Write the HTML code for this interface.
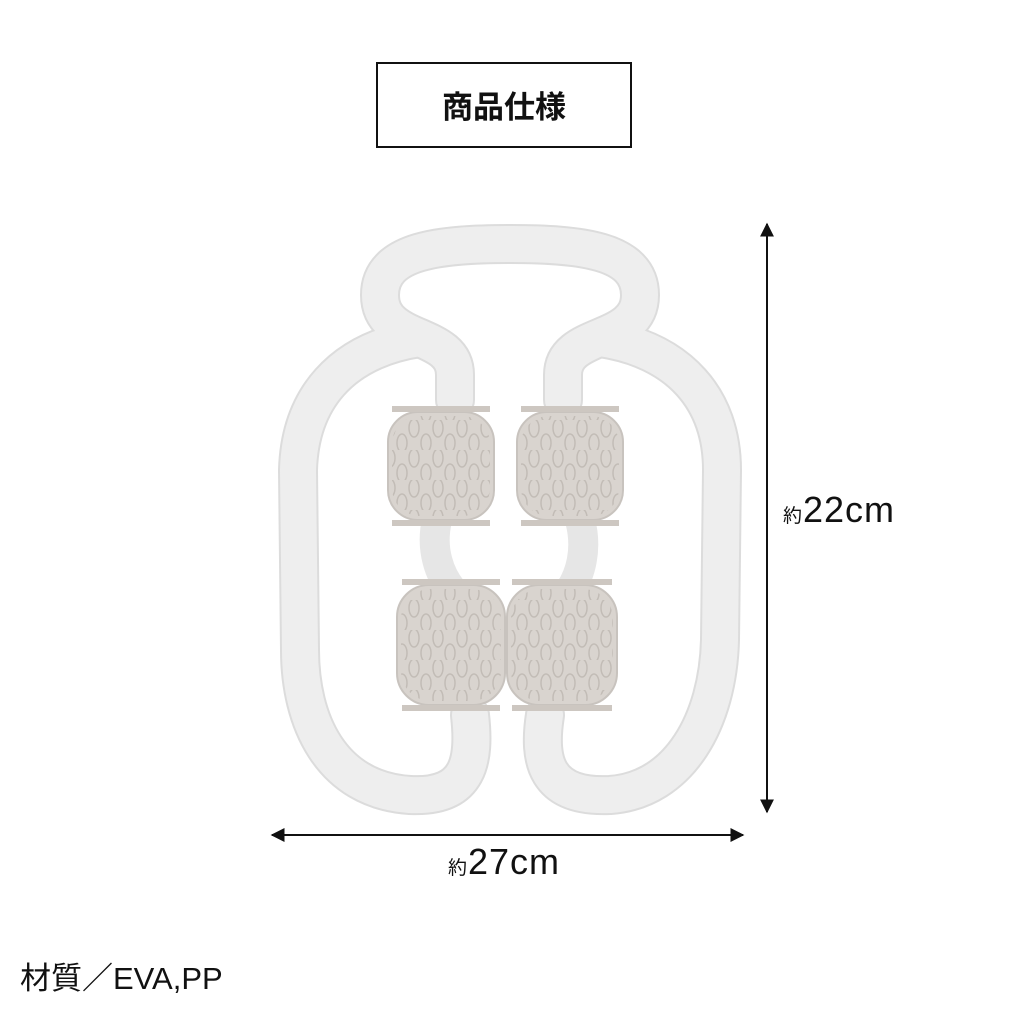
<!DOCTYPE html>
<html><head><meta charset="utf-8"><style>
body{margin:0;background:#fff;width:1010px;height:1010px;position:relative;overflow:hidden;font-family:"Liberation Sans","Noto Sans CJK JP",sans-serif}
.box{position:absolute;left:376px;top:62px;width:252px;height:82px;border:2px solid #111;text-align:center;line-height:82px;font-size:31px;font-weight:bold;font-family:"Noto Sans CJK JP",sans-serif;color:#111}
.t{position:absolute;color:#111;white-space:nowrap}
</style></head><body>
<div class="box">商品仕様</div>
<svg width="1010" height="1010" style="position:absolute;left:0;top:0">
<defs>
<marker id="a" viewBox="0 0 10 10" refX="9" refY="5" markerWidth="7" markerHeight="7" orient="auto-start-reverse"><path d="M0,0 L10,5 L0,10 z" fill="#111"/></marker>
<pattern id="p" width="24" height="30" patternUnits="userSpaceOnUse">
<ellipse cx="6" cy="8" rx="5" ry="9" fill="none" stroke="#c2bcb6" stroke-width="1.5"/>
<ellipse cx="18" cy="23" rx="5" ry="9" fill="none" stroke="#c2bcb6" stroke-width="1.5"/>
</pattern>
</defs>
<g fill="none" stroke-linecap="round">
<g stroke="#dcdcdc" stroke-width="40">
<path d="M455 400 L455 375 C455 330 380 345 380 295 C380 250 440 244 510 244 C580 244 640 250 640 295 C640 345 563 330 563 375 L563 400"/>
<path d="M420 338 C340 350 300 400 298 470 L300 650 C300 720 330 790 410 795 C470 798 475 760 470 715"/>
<path d="M600 338 C680 350 722 400 722 470 L720 640 C718 720 680 790 610 795 C545 798 538 760 545 715"/>
</g>
<g stroke="#eeeeee" stroke-width="36">
<path d="M455 400 L455 375 C455 330 380 345 380 295 C380 250 440 244 510 244 C580 244 640 250 640 295 C640 345 563 330 563 375 L563 400"/>
<path d="M420 338 C340 350 300 400 298 470 L300 650 C300 720 330 790 410 795 C470 798 475 760 470 715"/>
<path d="M600 338 C680 350 722 400 722 470 L720 640 C718 720 680 790 610 795 C545 798 538 760 545 715"/>
</g>
<path d="M437 520 C430 550 440 575 452 590" stroke="#e6e6e6" stroke-width="30"/>
<path d="M580 520 C588 550 580 575 570 590" stroke="#e6e6e6" stroke-width="30"/>
</g>
<g stroke="#c8c3be" stroke-width="2" fill="#d9d4cf">
<rect x="388" y="412" width="106" height="108" rx="30"/>
<rect x="517" y="412" width="106" height="108" rx="30"/>
<rect x="397" y="585" width="108" height="120" rx="32"/>
<rect x="507" y="585" width="110" height="120" rx="32"/>
</g>
<g fill="url(#p)">
<rect x="392" y="416" width="98" height="100" rx="28"/>
<rect x="521" y="416" width="98" height="100" rx="28"/>
<rect x="401" y="589" width="100" height="112" rx="30"/>
<rect x="511" y="589" width="102" height="112" rx="30"/>
</g>
<g fill="#cdc7c1">
<rect x="392" y="406" width="98" height="6"/><rect x="392" y="520" width="98" height="6"/>
<rect x="521" y="406" width="98" height="6"/><rect x="521" y="520" width="98" height="6"/>
<rect x="402" y="579" width="98" height="6"/><rect x="402" y="705" width="98" height="6"/>
<rect x="512" y="579" width="100" height="6"/><rect x="512" y="705" width="100" height="6"/>
</g>
<line x1="767" y1="224" x2="767" y2="812" stroke="#111" stroke-width="2" marker-start="url(#a)" marker-end="url(#a)"/>
<line x1="272" y1="835" x2="743" y2="835" stroke="#111" stroke-width="2" marker-start="url(#a)" marker-end="url(#a)"/>
</svg>
<div class="t" style="left:783px;top:489px;font-size:36px;letter-spacing:1px"><span style="font-size:19px">約</span>22cm</div>
<div class="t" style="left:448px;top:841px;font-size:36px;letter-spacing:1px"><span style="font-size:19px">約</span>27cm</div>
<div class="t" style="left:20px;top:953px;font-size:31px">材質／EVA,PP</div>
</body></html>
